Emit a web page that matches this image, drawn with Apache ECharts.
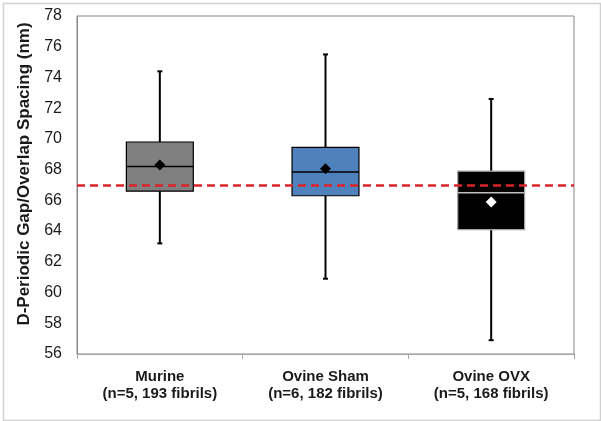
<!DOCTYPE html>
<html>
<head>
<meta charset="utf-8">
<script src="https://cdn.jsdelivr.net/npm/echarts@6/dist/echarts.min.js"></script>
<style>
html,body{margin:0;padding:0;background:#fff;}
#c{width:601px;height:421px;}
</style>
</head>
<body>
<div id="c"></div>
<script>
// ---- data ----
const categories = ['Murine\n(n=5, 193 fibrils)', 'Ovine Sham\n(n=6, 182 fibrils)', 'Ovine OVX\n(n=5, 168 fibrils)'];
const whiskerLow  = [63.2, 60.9, 56.9];
const q1          = [66.6, 66.3, 64.1];
const median      = [68.2, 67.85, 66.5];
const q3          = [69.8, 69.45, 67.9];
const whiskerHigh = [74.4, 75.5, 72.6];
const mean        = [68.3, 68.05, 65.9];
const refLine     = 67;
const yTicks = {min: 56, max: 78, interval: 2};

// ---- styles ----
const boxStyles = [
  {fill: '#808080', stroke: '#000000', median: '#000000'},
  {fill: '#4f81bd', stroke: '#000000', median: '#000000'},
  {fill: '#000000', stroke: '#a6a6a6', median: '#bfbfbf'}
];
const meanColors = ['#000000', '#000000', '#ffffff'];
const FONT = '"Liberation Sans", Arial, sans-serif';

const chart = echarts.init(document.getElementById('c'), null, {renderer: 'canvas'});

const boxData = categories.map((c, i) => [i, whiskerLow[i], q1[i], median[i], q3[i], whiskerHigh[i]]);
const meanData = mean.map((m, i) => ({value: [i, m], itemStyle: {color: meanColors[i], opacity: 1}}));

chart.setOption({
  animation: false,
  backgroundColor: '#ffffff',
  graphic: [{
    type: 'rect', left: 1, top: 1, z: -10,
    shape: {width: 597, height: 417},
    style: {fill: 'none', stroke: '#d0d0d0', lineWidth: 1.5}
  }],
  grid: {left: 77, right: 27, top: 16, bottom: 67, show: true, borderColor: '#868686', borderWidth: 1, backgroundColor: 'transparent'},
  xAxis: {
    type: 'category',
    data: categories,
    boundaryGap: true,
    axisLine: {lineStyle: {color: '#a6a6a6', width: 1}},
    axisTick: {show: true, length: 5, lineStyle: {color: '#a6a6a6'}},
    axisLabel: {
      margin: 14, color: '#1a1a1a', fontFamily: FONT, fontWeight: 'bold', fontSize: 15, lineHeight: 17
    },
    splitLine: {show: false}
  },
  yAxis: {
    type: 'value',
    min: yTicks.min, max: yTicks.max, interval: yTicks.interval,
    name: 'D-Periodic Gap/Overlap Spacing (nm)',
    nameLocation: 'middle',
    nameRotate: 90,
    nameGap: 41,
    nameTextStyle: {color: '#1a1a1a', fontFamily: FONT, fontWeight: 'bold', fontSize: 17, padding: [0, 0, 0, 22]},
    axisLine: {show: true, lineStyle: {color: '#868686', width: 1}},
    axisTick: {show: false},
    axisLabel: {margin: 15, color: '#1a1a1a', fontFamily: FONT, fontSize: 16},
    splitLine: {show: false}
  },
  series: [
    {
      type: 'custom',
      z: 2,
      data: boxData,
      encode: {x: 0, y: [1, 2, 3, 4, 5]},
      renderItem: function (params, api) {
        const i = api.value(0);
        const lo = api.coord([i, api.value(1)]);
        const b1 = api.coord([i, api.value(2)]);
        const md = api.coord([i, api.value(3)]);
        const b3 = api.coord([i, api.value(4)]);
        const hi = api.coord([i, api.value(5)]);
        const bw = api.size([1, 0])[0] * 0.404;
        const x = lo[0];
        const st = boxStyles[i];
        const wl = {stroke: '#000000', lineWidth: 2};
        return {
          type: 'group',
          children: [
            {type: 'line', shape: {x1: x, y1: hi[1], x2: x, y2: b3[1]}, style: wl},
            {type: 'line', shape: {x1: x, y1: b1[1], x2: x, y2: lo[1]}, style: wl},
            {type: 'line', shape: {x1: x - 2.5, y1: hi[1], x2: x + 2.5, y2: hi[1]}, style: wl},
            {type: 'line', shape: {x1: x - 2.5, y1: lo[1], x2: x + 2.5, y2: lo[1]}, style: wl},
            {type: 'rect', shape: {x: x - bw / 2, y: b3[1], width: bw, height: b1[1] - b3[1]},
             style: {fill: st.fill, stroke: st.stroke, lineWidth: 1.2}},
            {type: 'line', shape: {x1: x - bw / 2, y1: md[1], x2: x + bw / 2, y2: md[1]},
             style: {stroke: st.median, lineWidth: 1.5}}
          ]
        };
      }
    },
    {
      type: 'scatter',
      z: 5,
      symbol: 'diamond',
      symbolSize: 11,
      itemStyle: {opacity: 1},
      data: meanData,
      markLine: {
        silent: true,
        symbol: 'none',
        label: {show: false},
        lineStyle: {color: '#d9242b', type: [8, 5], width: 2.5},
        data: [{yAxis: refLine}]
      }
    }
  ]
});
</script>
</body>
</html>
